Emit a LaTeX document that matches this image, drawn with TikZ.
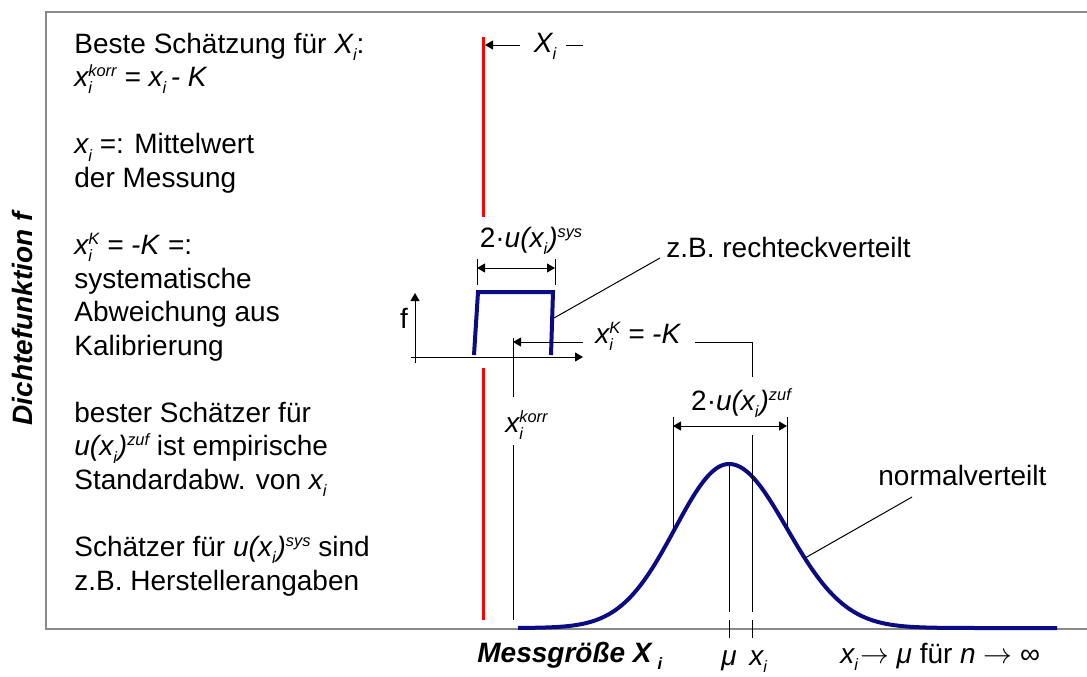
\documentclass[tikz,border=0pt]{standalone}
\usepackage{fontspec}
\setmainfont{Liberation Sans}
\usetikzlibrary{arrows.meta}
\definecolor{densblue}{HTML}{0B0B84}
\definecolor{framegray}{HTML}{8A8A8A}
\newcommand{\isub}[1]{\raisebox{-3.6pt}{\fontsize{8.2pt}{8.2pt}\selectfont #1}}
\newcommand{\isup}[1]{\raisebox{5pt}{\fontsize{8.2pt}{8.2pt}\selectfont #1}}
\tikzset{
  frame/.style={draw=framegray,line width=0.75pt},
  red line/.style={draw=red,line width=1.5pt},
  density/.style={draw=densblue,line width=2pt,line join=miter},
  thin/.style={draw=black,line width=0.5pt},
  tip arrow/.style={thin,-{Triangle[length=4pt,width=4.5pt]}},
  dim arrow/.style={thin,{Triangle[length=4pt,width=4.5pt]}-{Triangle[length=4pt,width=4.5pt]}},
  lbl/.style={inner sep=0pt,font=\fontsize{14pt}{16.78pt}\selectfont}
}

\begin{document}
\begin{tikzpicture}[x=0.5pt,y=-0.5pt]
  \useasboundingbox (0,0) rectangle (1087,676);
  % frame
  \coordinate (fTR) at (1087,12);
  \coordinate (fTL) at (46,12);
  \coordinate (fBL) at (46,629);
  \coordinate (fBR) at (1087,629);
  \draw[frame] (fTR) -- (fTL) -- (fBL) -- (fBR);
  \node[lbl,rotate=90,font=\fontsize{14pt}{16.78pt}\selectfont\bfseries\itshape] (ylabel) at (22,319) {Dichtefunktion f};

  % notes on the left
  \node[lbl,anchor=north west,align=left] (notes) at (74,32.5) {%
    Beste Schätzung für \textit{X\isub{i}}:\\
    \textit{x\rlap{\isub{i}}\isup{korr} = x\isub{i}\,- K}\\[16.78pt]
    \textit{x\isub{i}} =: Mittelwert\\
    der Messung\\[16.78pt]
    \textit{x\rlap{\isub{i}}\isup{K} = -K} =:\\
    systematische\\
    Abweichung aus\\
    Kalibrierung\\[16.78pt]
    bester Schätzer für\\
    \textit{u(x\isub{i}\kern0.5pt)\isup{zuf}} ist empirische\\
    Standardabw. von \textit{x\isub{i}}\\[16.78pt]
    Schätzer für \textit{u(x\isub{i}\kern0.5pt)\isup{sys}} sind\\
    z.B. Herstellerangaben};

  % true value X_i
  \coordinate (redTop) at (483,37);
  \coordinate (redCut) at (483,217);
  \coordinate (redOn) at (483,368);
  \coordinate (redBot) at (483,620);
  \draw[red line] (redTop) -- (redCut) (redOn) -- (redBot);
  \node[lbl,anchor=base] (Xlab) at (545,52) {\textit{X\isub{i}}};
  \coordinate (Xtail) at (520,45);
  \coordinate (Xtip) at (485,45);
  \coordinate (Xdash) at (583,45);
  \draw[tip arrow] (Xtail) -- (Xtip);
  \draw[thin] (Xdash) -- ++(-17,0);

  % rectangular distribution
  \coordinate (rA) at (474,355);
  \coordinate (rB) at (478,292);
  \coordinate (rC) at (553,292);
  \coordinate (rD) at (551,355);
  \draw[density] (rA) -- (rB) -- (rC) -- (rD);
  \coordinate (axO) at (415,357);
  \draw[tip arrow] (axO) ++(-4,0) -- (583,357);
  \draw[tip arrow] (axO) ++(0,6) -- (415,293);
  \node[lbl,anchor=base] (flab) at (404,328) {f};

  \coordinate (sysL) at (477,268);
  \coordinate (sysR) at (555,268);
  \draw[thin] (sysL) ++(0,-9) -- ++(0,26);
  \draw[thin] (sysR) ++(0,-9) -- ++(0,26);
  \draw[dim arrow] (sysL) -- (sysR);
  \node[lbl,anchor=base] (sys) at (531,247) {2·\textit{u(x\isub{i}\kern0.5pt)\isup{sys}}};

  \node[lbl,anchor=base west] (rechteck) at (666,257) {z.B. rechteckverteilt};
  \coordinate (rechteckFoot) at (554,318);
  \draw[thin] ([shift={(-6,1)}]rechteck.base west) -- (rechteckFoot);

  % correction K
  \node[lbl,anchor=base west] (xK) at (595,343) {\textit{x\rlap{\isub{i}}\isup{K} = -K}};
  \coordinate (kTail) at (583,342);
  \coordinate (kTip) at (513,342);
  \coordinate (kRight) at (695,342);
  \coordinate (kCorner) at (752,342);
  \draw[tip arrow] (kTail) -- (kTip);
  \draw[thin] (kRight) -- (kCorner) -- ++(0,35);

  \coordinate (korrTop) at (513,338);
  \coordinate (korrBot) at (513,620);
  \draw[thin] (korrTop) -- ++(0,59) (korrBot) -- ++(0,-175);
  \node[lbl,anchor=base west] (korr) at (505,432) {\textit{x\rlap{\isub{i}}\isup{korr}}};

  % normal distribution
  \draw[density] plot[domain=518:729,samples=90] (\x,{628-164*exp(-((\x-729)/54)*((\x-729)/54)/2)})
    -- plot[domain=729:1057,samples=130] (\x,{628-164*exp(-((\x-729)/58)*((\x-729)/58)/2)});

  \coordinate (zufL) at (673,426);
  \coordinate (zufR) at (787,426);
  \draw[thin] (zufL) ++(0,-9) -- (673,534);
  \draw[thin] (zufR) ++(0,-9) -- (787,530);
  \draw[dim arrow] (zufL) -- (zufR);
  \node[lbl,anchor=base] (zuf) at (741,410) {2·\textit{u(x\isub{i}\kern0.5pt)\isup{zuf}}};

  \coordinate (muTop) at (729,464);
  \coordinate (xiTop) at (752,435);
  \draw[thin] (muTop) -- (729,612) (729,620) -- (729,638);
  \draw[thin] (xiTop) -- (752,612) (752,620) -- (752,638);
  \node[lbl,anchor=base] (mu) at (729,665) {\textit{μ}};
  \node[lbl,anchor=base west] (xiLab) at (749,665) {\textit{x\isub{i}}};

  \node[lbl,anchor=base west] (normal) at (878,485) {normalverteilt};
  \coordinate (normalFoot) at (805,558);
  \draw[thin] ([shift={(34,12)}]normal.base west) -- (normalFoot);

  % axis texts
  \node[lbl,anchor=base west,font=\fontsize{14pt}{16.78pt}\selectfont\bfseries\itshape] (xlabel) at (477,662) {Messgröße X\kern3pt\isub{i}};
  \node[lbl,anchor=base west] (limit) at (840,663) {\textit{x\isub{i}}\kern1pt$\rightarrow$\ \textit{μ} für \textit{n}\ $\rightarrow$\ ∞};
\end{tikzpicture}
\end{document}
